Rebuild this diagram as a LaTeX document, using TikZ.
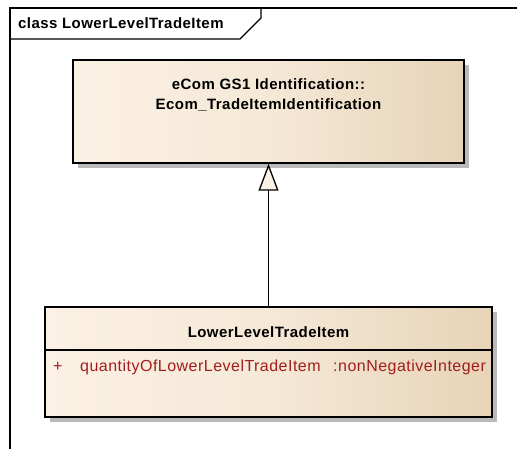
\documentclass[tikz,border=0pt]{standalone}
\usepackage{fontspec}
\setmainfont[LetterSpace=3]{Liberation Sans}
\usepackage{xcolor}
\usetikzlibrary{arrows.meta,shadows}

\definecolor{classleft}{HTML}{FBF1E4}
\definecolor{classright}{HTML}{E7D4B8}
\definecolor{attrred}{HTML}{A01E1E}

\tikzset{
  classbox/.style={draw=black, line width=1.5pt, rectangle, inner sep=0pt,
    left color=classleft, right color=classright, middle color=classleft!70!classright,
    drop shadow={shadow xshift=5pt, shadow yshift=-5pt, fill=black!27, opacity=1}},
  titletext/.style={font=\fontsize{15}{18}\selectfont\bfseries, inner sep=0pt, align=center},
  attrtext/.style={font=\fontsize{16}{19}\selectfont, text=attrred, inner sep=0pt, anchor=west}
}

\begin{document}
\begin{tikzpicture}[x=1pt,y=-1pt]
\useasboundingbox (0,0) rectangle (517,449);

% frame
\draw[line width=1.1pt] (10,449) -- (10,8) -- (517,8);
\draw[line width=1.1pt] (10,39) -- (240,39) -- (261,18) -- (261,8);
\node[titletext, anchor=west] (frametitle) at (18,23) {class LowerLevelTradeItem};

% parent class
\node[classbox, minimum width=391pt, minimum height=103pt] (ident) at (268.5,111.5) {};
\node[titletext] (identname) at (268.5,95) {eCom GS1 Identification::\\[2pt]Ecom\_TradeItemIdentification};

% lower level trade item
\node[classbox, minimum width=447pt, minimum height=110pt] (lower) at (268.5,362) {};
\draw[line width=1.3pt] (45,350) -- (492,350);
\node[titletext] (lowername) at (268.5,332) {LowerLevelTradeItem};
\node[attrtext] (plus) at (53,367) {+};
\node[attrtext] (attr) at (80,367) {quantityOfLowerLevelTradeItem};
\node[attrtext] (attrtype) at (333,367) {:nonNegativeInteger};

% generalization
\draw[line width=1.5pt, -{Triangle[width=20pt,length=27pt,fill=classleft,line width=1.3pt]}] (lower.north) -- (ident.south);

\end{tikzpicture}
\end{document}
